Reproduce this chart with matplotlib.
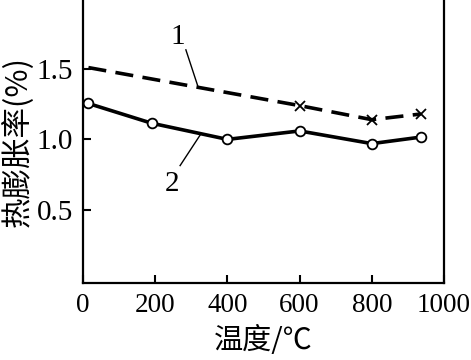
import matplotlib
matplotlib.use("Agg")
import matplotlib.pyplot as plt

# Data
temp1 = [15, 600, 800, 935]
exp1 = [1.51, 1.24, 1.14, 1.18]
temp2 = [15, 190, 400, 600, 800, 935]
exp2 = [1.255, 1.115, 1.0, 1.06, 0.97, 1.016]
xticks = [0, 200, 400, 600, 800, 1000]
yticks = [0.5, 1.0, 1.5]
xlabel = "温度/℃"
ylabel = "热膨胀率(%)"

serif = ['Liberation Serif', 'Noto Sans CJK SC']
cjk = ['Noto Sans CJK SC', 'Liberation Serif']

fig = plt.figure(figsize=(4.71, 3.6), dpi=100)
ax = fig.add_axes([83/471, 77/360, 361/471, 283/360])

ax.plot(temp1, exp1, color='black', lw=2.6, linestyle=(0, (5.0, 2.6)),
        marker='x', markevery=[1, 2, 3], markersize=6.5, mew=1.3)
ax.plot(temp2, exp2, color='black', lw=2.6, marker='o', markersize=7,
        markerfacecolor='white', markeredgecolor='black', mew=1.3)

ax.set_xlim(0, 1000)
ax.set_ylim(-0.02, 1.99)
ax.set_xticks(xticks)
ax.set_yticks(yticks)
ax.set_xticklabels([str(t) for t in xticks], family=serif, fontsize=19.5)
ax.set_yticklabels([f"{t:.1f}" for t in yticks], family=serif, fontsize=21)
ax.tick_params(direction='in', length=6, width=1.5, pad=7, color='black')
for s in ax.spines.values():
    s.set_linewidth(1.6)
ax.spines['top'].set_visible(False)

ax.set_xlabel(xlabel, family=cjk, fontsize=21, labelpad=6)
ax.set_ylabel(ylabel, family=cjk, fontsize=22, labelpad=2)

# curve labels with leader lines
ax.text(263, 1.73, "1", family=serif, fontsize=21, ha='center', va='center')
ax.plot([285, 319], [1.636, 1.371], color='black', lw=1.0)
ax.text(247, 0.686, "2", family=serif, fontsize=21, ha='center', va='center')
ax.plot([269, 324], [0.814, 1.029], color='black', lw=1.0)

fig.savefig("out.png", dpi=100)
